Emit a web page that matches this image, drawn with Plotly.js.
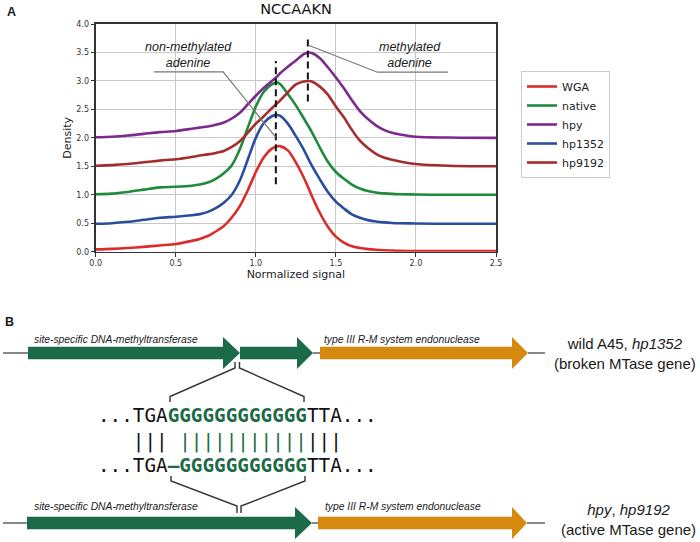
<!DOCTYPE html>
<html><head><meta charset="utf-8">
<script src="https://cdn.plot.ly/plotly-3.0.1.min.js"></script>
<style>html,body{margin:0;padding:0;background:#fff}#chart{width:700px;height:542px}</style>
</head><body><div id="chart"></div>
<script>
// ---------- Panel A data (curves include their vertical offsets) ----------
const signal = [0,0.1,0.2,0.3,0.4,0.5,0.6,0.65,0.7,0.75,0.8,0.85,0.9,0.95,1.0,1.05,1.1,1.13,1.15,1.2,1.25,1.3,1.33,1.35,1.4,1.45,1.5,1.55,1.6,1.65,1.7,1.75,1.8,1.85,1.9,2.0,2.2,2.5];
const densWGA    = [0.04,0.05,0.065,0.085,0.11,0.135,0.19,0.225,0.275,0.355,0.45,0.6,0.8,1.08,1.40,1.66,1.81,1.85,1.855,1.78,1.57,1.30,1.11,0.98,0.68,0.44,0.265,0.16,0.095,0.065,0.045,0.033,0.025,0.02,0.015,0.01,0.01,0.01];
const densNative = [1.01,1.02,1.05,1.09,1.13,1.14,1.16,1.18,1.215,1.28,1.38,1.52,1.80,2.18,2.55,2.81,2.94,2.97,2.95,2.77,2.57,2.34,2.20,2.10,1.83,1.58,1.40,1.28,1.18,1.11,1.065,1.04,1.025,1.015,1.01,1.005,1.0,1.0];
const densHpy    = [2.01,2.02,2.04,2.07,2.10,2.12,2.16,2.18,2.20,2.23,2.27,2.34,2.44,2.59,2.74,2.88,3.00,3.07,3.13,3.25,3.36,3.47,3.50,3.49,3.40,3.24,3.06,2.87,2.66,2.47,2.33,2.22,2.14,2.09,2.06,2.02,2.005,2.0];
const densHp1352 = [0.49,0.50,0.525,0.56,0.595,0.615,0.64,0.66,0.70,0.765,0.86,1.0,1.25,1.62,2.0,2.26,2.38,2.40,2.39,2.25,2.03,1.79,1.62,1.51,1.27,1.05,0.88,0.76,0.655,0.595,0.555,0.53,0.515,0.505,0.50,0.495,0.49,0.49];
const densHp9192 = [1.51,1.52,1.54,1.57,1.60,1.625,1.665,1.69,1.71,1.735,1.77,1.84,1.94,2.09,2.25,2.38,2.52,2.60,2.65,2.80,2.94,2.99,3.0,2.99,2.90,2.76,2.55,2.36,2.14,1.95,1.82,1.72,1.655,1.615,1.585,1.54,1.51,1.5];
const seriesNames  = ['WGA','native','hpy','hp1352','hp9192'];
const seriesValues = [densWGA,densNative,densHpy,densHp1352,densHp9192];
const seriesColors = ['#dc2b2b','#1e8a3c','#7d2a8d','#2a4e9f','#a52c2c'];
const peakNonMeth = 1.125, peakMeth = 1.325;

// ---------- Panel B text ----------
const geneMTase = 'site-specific DNA-methyltransferase';
const geneEndo  = 'type III R-M system endonuclease';
const seqGreen  = '#1d6a46';
const arrowGreen = '#1b6a48', arrowOrange = '#d5890f';

const W = 700, H = 542;
const pL = 95.7, pR = 496, pT = 24, pB = 251.7;

const traces = seriesNames.map((n,i)=>({
  x: signal, y: seriesValues[i], name: n, type:'scatter', mode:'lines',
  line:{color:seriesColors[i], width:2.6, shape:'spline', smoothing:0.8},
  xaxis:'x', yaxis:'y', hoverinfo:'skip'
}));
traces.push({x:[], y:[], xaxis:'x2', yaxis:'y2', type:'scatter', mode:'markers', showlegend:false, hoverinfo:'skip'});

function arrow(x0,x1,x2,cy,col){
  const h=6.3, Hh=16;
  return {type:'path', xref:'x2', yref:'y2', fillcolor:col, line:{width:0},
    path:`M${x0},${cy-h} L${x1},${cy-h} L${x1},${cy-Hh} L${x2},${cy} L${x1},${cy+Hh} L${x1},${cy+h} L${x0},${cy+h} Z`};
}
function seg(x0,y0,x1,y1){ return {type:'line', xref:'x2', yref:'y2', x0, y0, x1, y1, line:{color:'#555', width:1.4}}; }
function bracket(p){ return {type:'path', xref:'x2', yref:'y2', path:p, line:{color:'#333', width:1.4}}; }

const shapes = [
  // panel A markers
  {type:'line', xref:'x', yref:'y', x0:peakNonMeth, x1:peakNonMeth, y0:1.185, y1:3.35, line:{color:'#111', width:2, dash:'7px,4px'}},
  {type:'line', xref:'x', yref:'y', x0:peakMeth, x1:peakMeth, y0:2.64, y1:3.76, line:{color:'#111', width:2, dash:'7px,4px'}},
  {type:'path', xref:'x', yref:'y', path:'M0.364,3.158 L0.796,3.158 L1.125,2.01', line:{color:'#777', width:1.2}},
  {type:'path', xref:'x', yref:'y', path:'M1.329,3.627 L1.76,3.153 L2.2,3.153', line:{color:'#777', width:1.2}},
  // panel B top row
  seg(3,353,28,353), arrow(28,223,240,353,arrowGreen), arrow(240,297,313,353,arrowGreen),
  seg(313,353,320,353), arrow(320,512,528,353,arrowOrange), seg(528,353,545,353),
  // panel B bottom row
  seg(3,523,27,523), arrow(27,295,312,523,arrowGreen), seg(312,523,318,523),
  arrow(318,512,527,523,arrowOrange), seg(527,523,545,523),
  // brackets
  bracket('M235,362 L235,368 L170,396.5 L170,402'),
  bracket('M239.5,362 L239.5,368 L304,396.5 L304,402'),
  bracket('M171,476 L171,481 L237,506 L237,513'),
  bracket('M305,476 L305,481 L241,506 L241,513')
];

const g  = s => `<span style="color:${seqGreen}">${s}</span>`;
const gb = s => `<b><span style="color:${seqGreen}">${s}</span></b>`;
const nb = '\u00a0';
const mono = {family:'DejaVu Sans Mono', size:19.3, color:'#111'};
const sans = (size,style)=>({family:'Liberation Sans, Arial, sans-serif', size, color:'#1a1a1a', style:style||'normal'});

const annotations = [
  {xref:'x2', yref:'y2', x:11, y:12, text:'<b>A</b>', showarrow:false, font:sans(12.5)},
  {xref:'x2', yref:'y2', x:9, y:322, text:'<b>B</b>', showarrow:false, font:sans(12.5)},
  {xref:'x', yref:'y', x:0.577, y:3.448, text:'non-methylated<br>adenine', showarrow:false, font:sans(12.5,'italic')},
  {xref:'x', yref:'y', x:1.964, y:3.448, text:'methylated<br>adenine', showarrow:false, font:sans(12.5,'italic')},
  {xref:'x2', yref:'y2', x:32, y:339, xanchor:'left', text:geneMTase, showarrow:false, font:sans(10.3,'italic')},
  {xref:'x2', yref:'y2', x:322, y:339, xanchor:'left', text:geneEndo, showarrow:false, font:sans(10.3,'italic')},
  {xref:'x2', yref:'y2', x:32, y:506, xanchor:'left', text:geneMTase, showarrow:false, font:sans(10.3,'italic')},
  {xref:'x2', yref:'y2', x:323, y:506, xanchor:'left', text:geneEndo, showarrow:false, font:sans(10.3,'italic')},
  {xref:'x2', yref:'y2', x:625, y:353, text:'wild A45, <i>hp1352</i><br>(broken MTase gene)', showarrow:false, font:sans(15)},
  {xref:'x2', yref:'y2', x:628, y:519.5, text:'<i>hpy</i>, <i>hp9192</i><br>(active MTase gene)', showarrow:false, font:sans(15)},
  {xref:'x2', yref:'y2', x:237.5, y:415.5, text:'...TGA'+gb('GGGGGGGGGGGG')+'TTA...', showarrow:false, font:mono},
  {xref:'x2', yref:'y2', x:237.5, y:441, text:nb+nb+nb+'|||'+nb+g('|||||||||||')+'|||'+nb+nb+nb, showarrow:false, font:mono},
  {xref:'x2', yref:'y2', x:237.5, y:465.5, text:'...TGA'+gb('\u2013GGGGGGGGGGG')+'TTA...', showarrow:false, font:mono}
];

const axCommon = {showgrid:true, gridcolor:'#c8c8c8', gridwidth:1, zeroline:false, showline:true, linecolor:'#333',
  linewidth:1.6, mirror:true, ticks:'outside', ticklen:3.5, tickcolor:'#333', tickwidth:1, dtick:0.5, tick0:0,
  tickformat:'.1f', tickfont:{family:'DejaVu Sans', size:8, color:'#333'}, fixedrange:true};

const layout = {
  width:W, height:H, margin:{l:0,r:0,t:0,b:0}, paper_bgcolor:'#ffffff', plot_bgcolor:'rgba(0,0,0,0)',
  title:{text:'NCCAAKN', font:{family:'DejaVu Sans', size:14.5, color:'#111'}, x:296/W, xanchor:'center', y:1-8.5/H, yanchor:'middle'},
  xaxis:Object.assign({}, axCommon, {domain:[pL/W, pR/W], range:[0,2.5], anchor:'y',
    title:{text:'Normalized signal', font:{family:'DejaVu Sans', size:11, color:'#222'}, standoff:0}}),
  yaxis:Object.assign({}, axCommon, {domain:[1-pB/H, 1-pT/H], range:[0,4], anchor:'x',
    title:{text:'Density', font:{family:'DejaVu Sans', size:11, color:'#222'}, standoff:2}}),
  xaxis2:{domain:[0,1], range:[0,W], visible:false, anchor:'y2', fixedrange:true},
  yaxis2:{domain:[0,1], range:[H,0], visible:false, anchor:'x2', fixedrange:true},
  legend:{x:521/W, y:1-71/H, xanchor:'left', yanchor:'top', bgcolor:'#fff', bordercolor:'#cccccc', borderwidth:1,
    font:{family:'DejaVu Sans', size:11, color:'#222'}},
  shapes, annotations
};
Plotly.newPlot('chart', traces, layout, {displayModeBar:false, staticPlot:true});
</script></body></html>
